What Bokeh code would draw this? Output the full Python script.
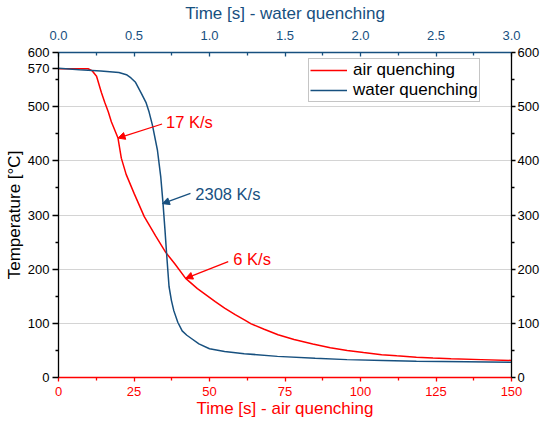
from bokeh.plotting import figure
from bokeh.models import (Range1d, LinearAxis, FixedTicker, NumeralTickFormatter,
                          Legend, LegendItem, Arrow, NormalHead, Label)
from bokeh.embed import file_html
from bokeh.resources import INLINE

# ---- data ----
air_t = [0, 5, 9.8, 11.2, 12.6, 14.2, 15.3, 16.5, 17.5, 19.7, 20.8, 22.4, 25.1, 28.4,
         32.2, 35.5, 38.5, 42.1, 46, 51.9, 55, 58.5, 61.7, 63.8, 68.1, 72.7, 78, 84.2,
         90, 95.6, 101, 107, 112, 118.5, 124, 130, 140, 150]
air_T = [570, 570, 570, 566, 556, 526, 508, 490, 472, 442, 405, 375, 339, 297,
         261, 231, 210, 183, 164, 140, 128, 116, 106, 99, 89, 79, 70, 62,
         55, 50, 46, 42, 40, 37.6, 36, 34.5, 33, 31.5]

water_t = [0, 0.14, 0.28, 0.40, 0.45, 0.48, 0.51, 0.546, 0.579, 0.60, 0.622, 0.655,
           0.677, 0.692, 0.705, 0.716, 0.732, 0.748, 0.764, 0.79, 0.819, 0.85, 0.88,
           0.93, 1.0, 1.1, 1.23, 1.45, 1.7, 1.91, 2.15, 2.37, 2.7, 3.0]
water_T = [571, 568, 566, 563, 559, 553, 545, 526, 508, 490, 466, 420,
           371, 322, 273, 228, 168, 142, 123, 102, 86, 78, 72,
           62, 53, 48, 44, 39, 35.5, 33, 31.5, 30, 29, 28]

left_ticks = [0, 100, 200, 300, 400, 500, 570, 600]
right_ticks = [0, 100, 200, 300, 400, 500, 600]
y_minor = [50, 150, 250, 350, 450, 550]
bottom_ticks = [0, 25, 50, 75, 100, 125, 150]
bottom_minor = [12.5, 37.5, 62.5, 87.5, 112.5, 137.5]
top_ticks = [0.0, 0.5, 1.0, 1.5, 2.0, 2.5, 3.0]
top_minor = [0.25, 0.75, 1.25, 1.75, 2.25, 2.75]
grid_ticks = [100, 200, 300, 400, 500]

# annotations: (text, x_text, y_text, x_start, y_start, x_tip, y_tip) in air-time / temperature units
notes = [
    ("17 K/s", 35.6, 472, 34.3, 468, 19.7, 442, "air"),
    ("2308 K/s", 45.3, 338, 43.7, 340, 34.4, 321, "water"),
    ("6 K/s", 57.9, 219, 56.2, 214, 42.1, 183, "air"),
]

RED = "#ff0000"
BLUE = "#17507f"
FONT = "Liberation Sans"
TICK_FS = "13px"
LAB_FS = "17px"

p = figure(width=542, height=420, output_backend="svg", toolbar_location=None,
           x_range=Range1d(0, 150), y_range=Range1d(0, 600),
           min_border_left=58, min_border_right=26, min_border_top=52, min_border_bottom=41)
p.extra_x_ranges = {"water": Range1d(0, 3)}
p.outline_line_color = None
p.background_fill_color = "white"

# grid
p.xgrid.visible = False
p.ygrid.ticker = FixedTicker(ticks=grid_ticks)
p.ygrid.grid_line_color = "#d4d4d4"
p.ygrid.grid_line_width = 1

def style_axis(ax, color, label_color):
    ax.axis_line_color = color
    ax.major_tick_line_color = color
    ax.minor_tick_line_color = color
    ax.axis_line_width = 1.3
    ax.major_tick_line_width = 1.3
    ax.minor_tick_line_width = 1.3
    ax.major_label_text_color = label_color
    ax.major_label_text_font = FONT
    ax.major_label_text_font_size = TICK_FS
    ax.axis_label_text_color = label_color
    ax.axis_label_text_font = FONT
    ax.axis_label_text_font_size = LAB_FS
    ax.axis_label_text_font_style = "normal"

# bottom axis (air)
bx = p.below[0]
bx.ticker = FixedTicker(ticks=bottom_ticks, minor_ticks=bottom_minor)
bx.axis_label = "Time [s] - air quenching"
style_axis(bx, RED, RED)
bx.major_tick_out = 4
bx.major_tick_in = 0
bx.minor_tick_out = 3
bx.minor_tick_in = 0
bx.major_label_standoff = 5
bx.axis_label_standoff = 0

# left axis
ly = p.left[0]
ly.ticker = FixedTicker(ticks=left_ticks, minor_ticks=y_minor)
ly.axis_label = "Temperature [°C]"
style_axis(ly, "black", "black")
ly.major_tick_out = 6
ly.major_tick_in = 0
ly.minor_tick_out = 3
ly.minor_tick_in = 0
ly.major_label_standoff = 3
ly.axis_label_standoff = 1

# right axis
ry = LinearAxis(ticker=FixedTicker(ticks=right_ticks, minor_ticks=y_minor))
style_axis(ry, "black", "black")
ry.major_tick_out = 4
ry.major_tick_in = 0
ry.minor_tick_out = 3
ry.minor_tick_in = 0
ry.major_label_standoff = 2
p.add_layout(ry, "right")

# top axis (water)
tx = LinearAxis(x_range_name="water",
                ticker=FixedTicker(ticks=top_ticks, minor_ticks=top_minor),
                formatter=NumeralTickFormatter(format="0.0"),
                axis_label="Time [s] - water quenching")
style_axis(tx, BLUE, BLUE)
tx.major_tick_out = 0
tx.major_tick_in = 4
tx.minor_tick_out = 0
tx.minor_tick_in = 3
tx.major_label_standoff = 13
tx.axis_label_standoff = 5
p.add_layout(tx, "above")

# curves
r_air = p.line(air_t, air_T, line_color=RED, line_width=1.5)
r_water = p.line(water_t, water_T, line_color=BLUE, line_width=1.5, x_range_name="water")

# annotations
for text, xt, yt, xs, ys, xe, ye, kind in notes:
    c = RED if kind == "air" else BLUE
    p.add_layout(Arrow(end=NormalHead(size=7, fill_color=c, line_color=c, line_width=1),
                       x_start=xs, y_start=ys, x_end=xe, y_end=ye,
                       line_color=c, line_width=1.3))
    p.add_layout(Label(x=xt, y=yt, text=text, text_color=c, text_font=FONT,
                       text_font_size="16.5px", text_baseline="middle", text_align="left"))

legend = Legend(items=[LegendItem(label="air quenching", renderers=[r_air]),
                       LegendItem(label="water quenching", renderers=[r_water])],
                location=(250, 275))
legend.label_text_font = FONT
legend.label_text_font_size = LAB_FS
legend.label_text_color = "black"
legend.border_line_color = "#8c8c8c"
legend.border_line_width = 1
legend.background_fill_color = "white"
legend.background_fill_alpha = 1
legend.padding = 1
legend.spacing = 0
legend.margin = 0
legend.label_height = 20
legend.glyph_height = 20
legend.glyph_width = 37
legend.label_standoff = 6
p.add_layout(legend)

open("out.html", "w").write(file_html(p, INLINE))
